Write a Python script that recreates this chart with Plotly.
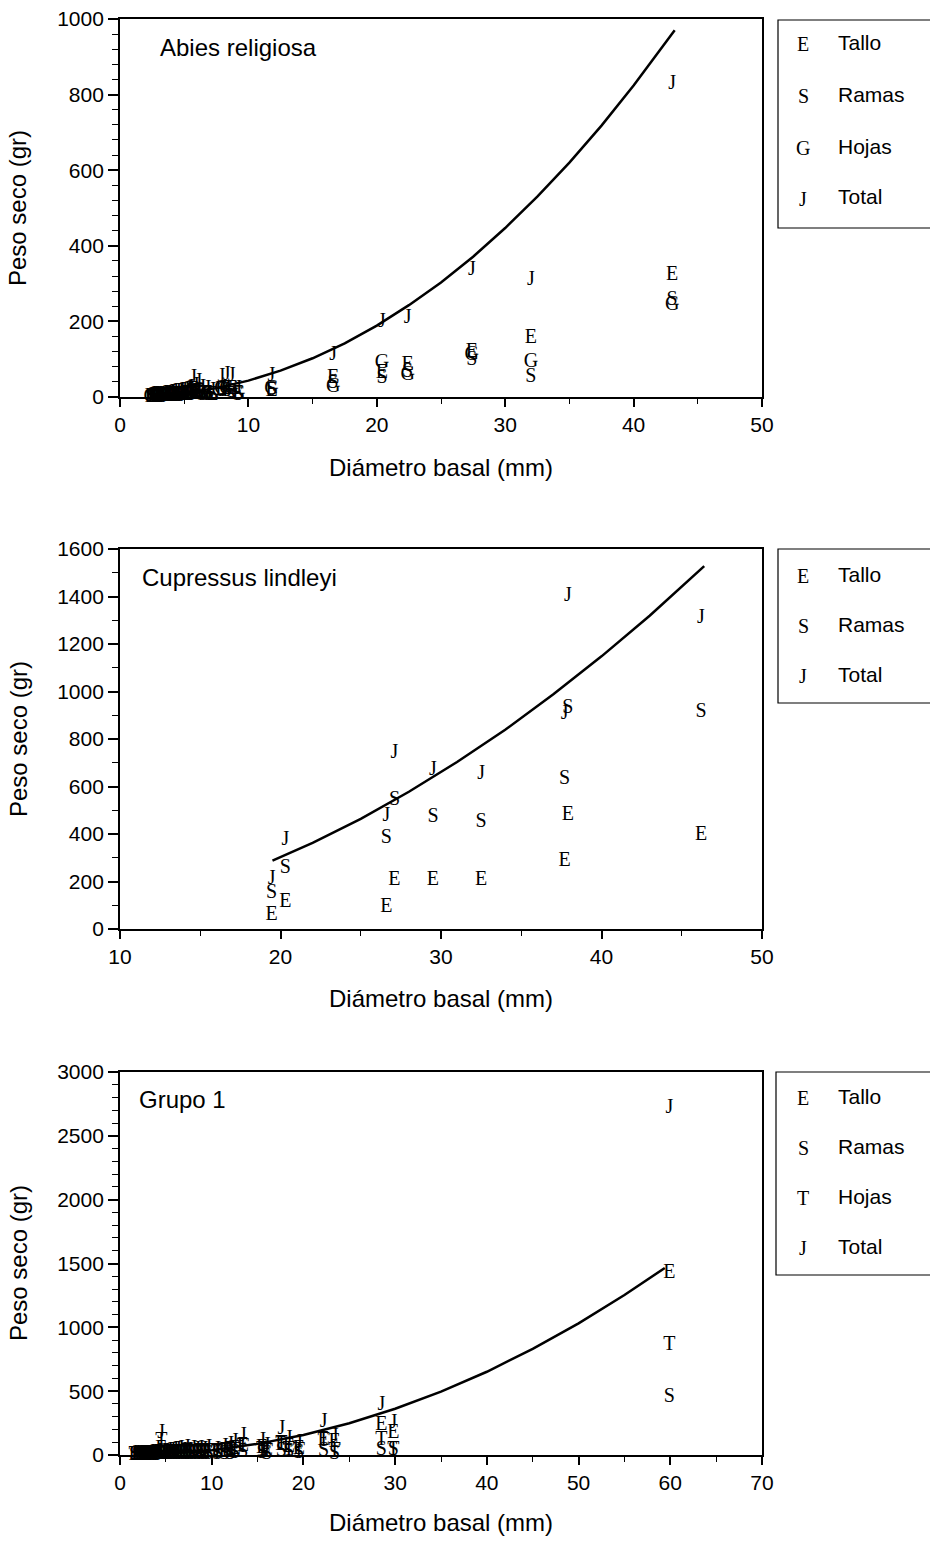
import plotly.graph_objects as go

W, H = 930, 1542

# ---------------- Panel 1: Abies religiosa ----------------
ab_d = [43.0, 32.0, 27.4, 22.4, 20.4, 16.6, 11.8, 8.7, 8.3, 7.9, 9.2, 7.2, 6.8, 6.4, 6.1, 5.9, 5.7, 5.5,
        5.4, 5.2, 5.0, 4.8, 4.7, 4.5, 4.3, 4.1, 4.0, 3.8, 3.6, 3.5, 3.3, 3.1, 2.9, 2.8, 2.6, 2.4]
ab_tallo = [323, 156, 120, 85, 63, 50, 15, 20, 22, 18, 8, 5, 7, 9, 14, 10, 18, 9,
            8, 7, 6, 6, 5, 5, 4, 4, 3, 3, 3, 2, 2, 2, 2, 1, 1, 1]
ab_ramas = [257, 54, 98, 67, 50, 37, 18, 14, 15, 16, 6, 4, 5, 6, 10, 7, 12, 6,
            5, 5, 4, 4, 3, 3, 3, 2, 3, 2, 2, 2, 1, 1, 1, 1, 1, 1]
ab_hojas = [243, 93, 111, 58, 90, 27, 22, 22, 21, 20, 8, 6, 8, 9, 16, 11, 19, 10,
            9, 7, 7, 6, 6, 5, 5, 4, 4, 4, 3, 3, 3, 3, 2, 2, 2, 1]
ab_total = [828, 309, 336, 209, 199, 111, 55, 56, 58, 54, 22, 15, 20, 24, 40, 28, 49, 25,
            22, 19, 17, 16, 14, 13, 12, 10, 10, 9, 8, 7, 6, 6, 5, 4, 4, 3]
ab_fit_x = [2.5, 5, 7.5, 10, 12.5, 15, 17.5, 20, 22.5, 25, 27.5, 30, 32.5, 35, 37.5, 40, 43.2]
ab_fit_y = [2.3, 9.9, 23.5, 43.3, 69.6, 102.5, 142, 189, 243, 303, 371, 447, 530, 620, 718, 824, 970]

# ---------------- Panel 2: Cupressus lindleyi ----------------
cu_d = [46.2, 37.9, 37.7, 32.5, 29.5, 27.1, 26.6, 20.3, 19.45]
cu_tallo = [396, 480, 288, 206, 206, 206, 94, 115, 59]
cu_ramas = [915, 930, 630, 452, 473, 543, 382, 255, 153]
cu_total = [1308, 1402, 905, 652, 670, 740, 476, 375, 209]
cu_fit_x = [19.5, 22, 25, 28, 31, 34, 37, 40, 43, 46.4]
cu_fit_y = [288, 363, 464, 578, 703, 839, 988, 1148, 1319, 1528]

# ---------------- Panel 3: Grupo 1 ----------------
g_d = [59.9, 28.5, 29.8, 22.2, 23.4, 17.6, 18.4, 19.5, 15.5, 16.0, 13.4, 12.5, 12.0, 11.4, 10.6, 4.5,
       1.6, 1.9, 2.2, 2.5, 2.7, 3.0, 3.2, 3.5, 3.8, 4.0, 4.3, 4.8, 5.1, 5.4, 5.7, 6.0, 6.3, 6.6,
       7.0, 7.3, 7.6, 8.0, 8.4, 8.8, 9.2, 9.6]
g_tallo = [1426, 235, 170, 120, 104, 80, 65, 45, 55, 35, 70, 50, 40, 30, 20, 45,
           2, 2, 2, 3, 3, 4, 4, 5, 6, 7, 8, 10, 10, 12, 13, 14, 16, 18,
           12, 21, 14, 18, 16, 20, 15, 22]
g_ramas = [454, 39, 39, 31, 10, 30, 20, 15, 15, 10, 20, 15, 10, 8, 5, 15,
           1, 1, 1, 1, 2, 2, 2, 3, 3, 3, 4, 5, 5, 6, 7, 7, 8, 9,
           6, 10, 7, 9, 8, 10, 8, 11]
g_hojas = [862, 118, 40, 110, 30, 90, 40, 35, 40, 25, 60, 35, 30, 22, 15, 110,
           1, 2, 3, 3, 3, 4, 5, 5, 6, 7, 8, 9, 11, 12, 13, 15, 16, 17,
           12, 21, 14, 18, 16, 20, 15, 22]
g_total = [2718, 392, 248, 261, 144, 200, 125, 95, 110, 70, 150, 100, 80, 60, 40, 170,
           4, 5, 6, 7, 8, 10, 11, 13, 15, 17, 20, 24, 26, 30, 33, 36, 40, 44,
           30, 52, 35, 45, 40, 50, 38, 55]
g_fit_x = [1.5, 5, 10, 15, 20, 25, 30, 35, 40, 45, 50, 55, 59.4]
g_fit_y = [0.8, 9, 38, 87, 157, 249, 362, 496, 652, 831, 1031, 1253, 1465]

SERIF = "Liberation Serif"
SANS = "Liberation Sans"


def px(x):
    return x / W


def py(y):
    return 1 - y / H


fig = go.Figure()


def letters(xs, ys, letter, n):
    fig.add_trace(go.Scatter(
        x=xs, y=ys, mode="text", text=[letter] * len(xs),
        textfont=dict(family=SERIF, size=20, color="black"),
        textposition="middle center", cliponaxis=False, showlegend=False,
        hoverinfo="skip", xaxis="x" + n, yaxis="y" + n))


def curve(xs, ys, n):
    fig.add_trace(go.Scatter(
        x=xs, y=ys, mode="lines", line=dict(color="black", width=2.5),
        showlegend=False, hoverinfo="skip", xaxis="x" + n, yaxis="y" + n))


# Panel 1
curve(ab_fit_x, ab_fit_y, "")
letters(ab_d, ab_tallo, "E", "")
letters(ab_d, ab_ramas, "S", "")
letters(ab_d, ab_hojas, "G", "")
letters(ab_d, ab_total, "J", "")
# Panel 2
curve(cu_fit_x, cu_fit_y, "2")
letters(cu_d, cu_tallo, "E", "2")
letters(cu_d, cu_ramas, "S", "2")
letters(cu_d, cu_total, "J", "2")
# Panel 3
curve(g_fit_x, g_fit_y, "3")
letters(g_d, g_tallo, "E", "3")
letters(g_d, g_ramas, "S", "3")
letters(g_d, g_hojas, "T", "3")
letters(g_d, g_total, "J", "3")

tickfont = dict(family=SANS, size=21, color="black")


def xax(rng, dtick, minor, anchor):
    return dict(domain=[px(120), px(762)], range=rng, dtick=dtick, tick0=0, anchor=anchor,
                ticks="outside", ticklen=8, tickwidth=1.5, tickcolor="black",
                minor=dict(dtick=minor, ticks="outside", ticklen=5, tickwidth=1.2,
                           tickcolor="black", showgrid=False),
                showline=True, linecolor="black", linewidth=1.8, mirror=True,
                showgrid=False, zeroline=False, tickfont=tickfont, automargin=False)


def yax(rng, dtick, minor, dom, anchor):
    return dict(domain=[py(dom[1]), py(dom[0])], range=rng, dtick=dtick, tick0=0, anchor=anchor,
                ticks="outside", ticklen=10, tickwidth=1.5, tickcolor="black",
                minor=dict(dtick=minor, ticks="outside", ticklen=6, tickwidth=1.2,
                           tickcolor="black", showgrid=False),
                showline=True, linecolor="black", linewidth=1.8, mirror=True,
                showgrid=False, zeroline=False, tickfont=tickfont, automargin=False)


annotations = []
shapes = []


def ann(text, x, y, size, family=SANS, xanchor="center", angle=0):
    annotations.append(dict(text=text, x=px(x), y=py(y), xref="paper", yref="paper",
                            xanchor=xanchor, yanchor="middle", showarrow=False,
                            textangle=angle, font=dict(family=family, size=size, color="black")))


# titles inside the panels
ann("Abies religiosa", 158, 47, 24, xanchor="left")
ann("Cupressus lindleyi", 140, 577, 24, xanchor="left")
ann("Grupo 1", 137, 1099, 24, xanchor="left")

# axis titles
for yy in (467, 998, 1522):
    ann("Diámetro basal (mm)", 441, yy, 24)
for yy in (208, 739, 1263):
    ann("Peso seco (gr)", 18, yy, 24, angle=-90)

# legends
legend_defs = [
    ((778, 20, 228), [("E", "Tallo", 44), ("S", "Ramas", 96), ("G", "Hojas", 148), ("J", "Total", 199)]),
    ((778, 549, 703), [("E", "Tallo", 576), ("S", "Ramas", 626), ("J", "Total", 676)]),
    ((776, 1072, 1275), [("E", "Tallo", 1098), ("S", "Ramas", 1148), ("T", "Hojas", 1198), ("J", "Total", 1248)]),
]
for (bx, by0, by1), items in legend_defs:
    shapes.append(dict(type="rect", xref="paper", yref="paper", x0=px(bx), x1=px(945),
                       y0=py(by1), y1=py(by0), line=dict(color="black", width=1.2)))
    for sym, lab, yy in items:
        ann(sym, 803, yy, 20, family=SERIF)
        ann(lab, 836, yy - 2, 21, xanchor="left")

fig.update_layout(
    width=W, height=H, margin=dict(l=0, r=0, t=0, b=0, autoexpand=False),
    paper_bgcolor="white", plot_bgcolor="white", showlegend=False,
    xaxis=xax([0, 50], 10, 5, "y"),
    yaxis=yax([0, 1000], 200, 40, (19, 397), "x"),
    xaxis2=xax([10, 50], 10, 5, "y2"),
    yaxis2=yax([0, 1600], 200, 100, (549, 929), "x2"),
    xaxis3=xax([0, 70], 10, 5, "y3"),
    yaxis3=yax([0, 3000], 500, 100, (1072, 1455), "x3"),
    annotations=annotations, shapes=shapes,
)

fig.write_html("out.html")
